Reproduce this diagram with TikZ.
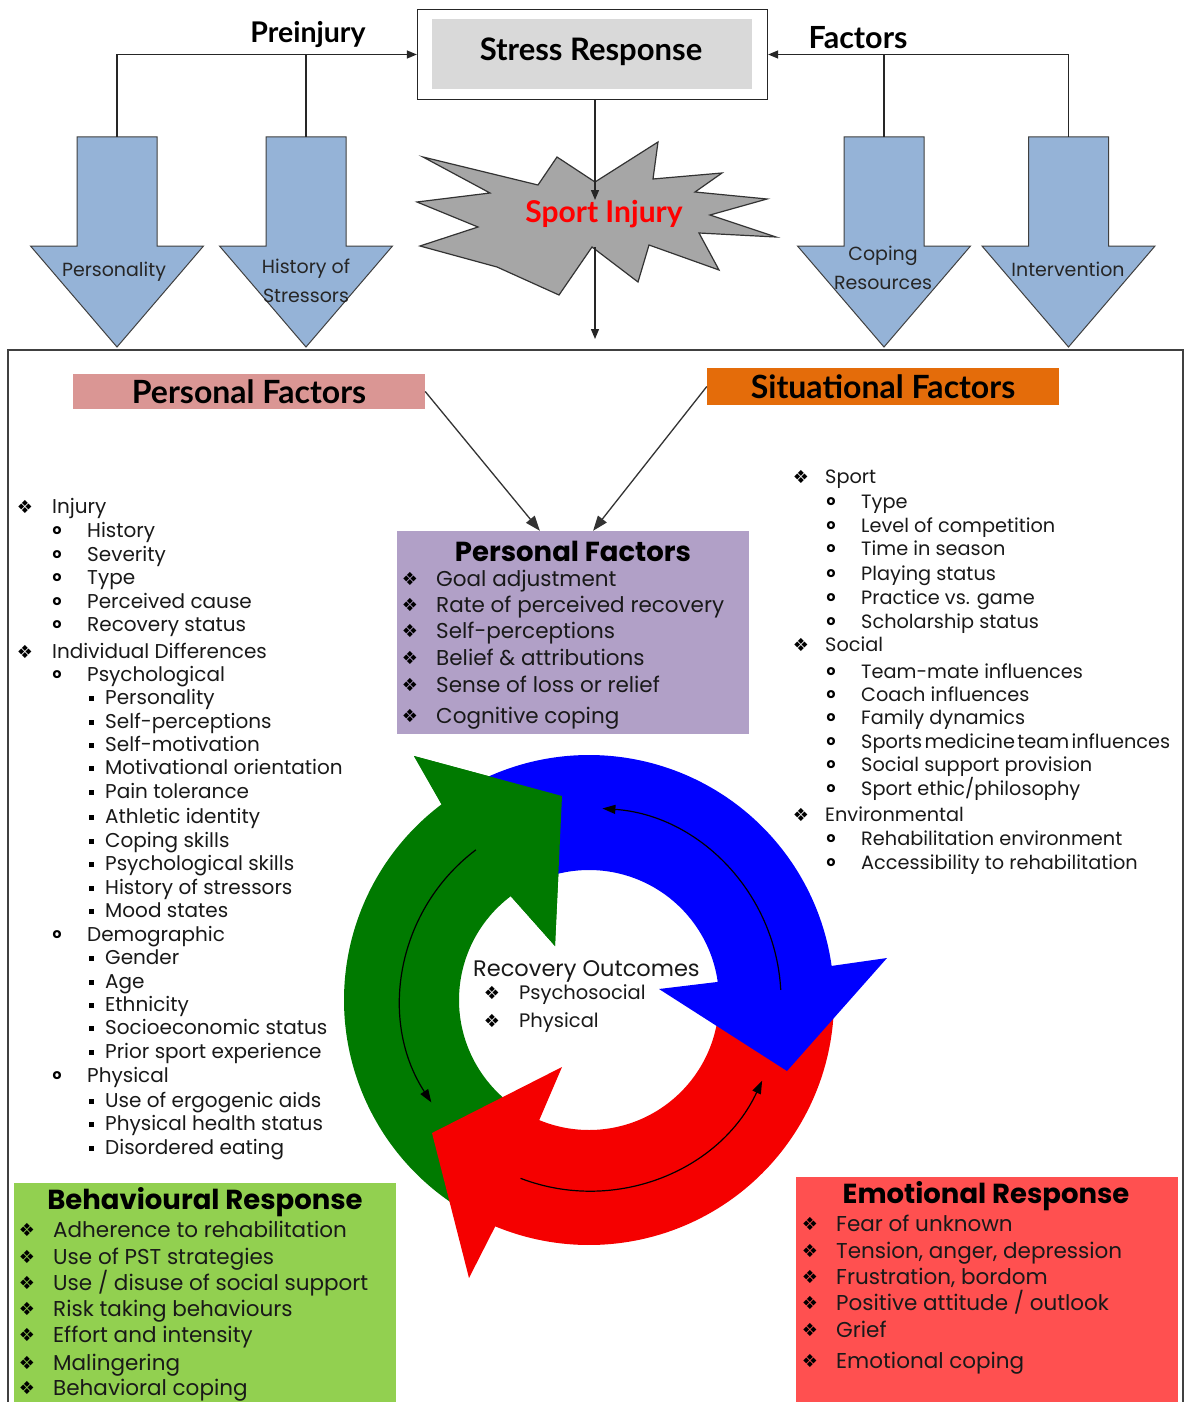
\documentclass[tikz,border=0pt]{standalone}
\usepackage{fontspec}
\setmainfont{Poppins}
\newfontfamily\headfont{Lato}
\newfontfamily\symfont{DejaVu Sans}
\usetikzlibrary{arrows.meta,calc}
\definecolor{barrowc}{HTML}{95B3D7}
\definecolor{srgrey}{HTML}{D9D9D9}
\definecolor{burstc}{HTML}{A6A6A6}
\definecolor{pinkf}{HTML}{DA9694}
\definecolor{orangef}{HTML}{E46C0A}
\definecolor{purplef}{HTML}{B1A0C7}
\definecolor{greenf}{HTML}{92D050}
\definecolor{redf}{HTML}{FF5050}
\definecolor{cgreen}{HTML}{007A00}
\definecolor{cblue}{HTML}{0000FF}
\definecolor{cred}{HTML}{F50000}
\definecolor{injred}{HTML}{FF0000}
\begin{document}
\begin{tikzpicture}[x=1pt,y=-1pt,
  txt/.style={anchor=base west,inner sep=0pt,font=\fontsize{#1}{#1}\selectfont,text=black!90,yshift={-0.34*#1*1pt}},
  txt/.default=20,
  dia/.style={inner sep=0pt,font=\symfont\fontsize{18}{18}\selectfont},
  obul/.style={inner sep=0pt,font=\bfseries\fontsize{14}{14}\selectfont},
  sqb/.style={fill=black,minimum size=5pt,inner sep=0pt},
  boxtitle/.style={inner sep=0pt,font=\bfseries\fontsize{27.5}{27.5}\selectfont},
  toph/.style={inner sep=0pt,font=\headfont\bfseries\fontsize{#1}{#1}\selectfont},
  toph/.default=30,
  lbl/.style={inner sep=0pt,align=center,font=\fontsize{19}{29}\selectfont,text=black!85},
  barrow/.style={fill=barrowc,draw=black!75,line width=1pt},
  conn/.style={draw=black!85,line width=1.3pt,-{Triangle[length=10pt,width=8pt]}},
  plainconn/.style={draw=black!85,line width=1.3pt},
  bigconn/.style={draw=black!80,line width=1.3pt,-{Triangle[length=15pt,width=11pt]}},
  thinarc/.style={draw=black,line width=1.2pt,-{Triangle[length=13pt,width=9pt]}}]
\useasboundingbox (0,0) rectangle (1184,1402);
\fill[white] (0,0) rectangle (1184,1402);

% ---------- top part ----------
\node[draw=black!85,line width=1.3pt,minimum width=350pt,minimum height=90pt,inner sep=0pt] (srbox) at (592.5,54.5) {};
\node[fill=srgrey,minimum width=320pt,minimum height=70pt,inner sep=0pt] (srfill) at (591.5,54.3) {};
\node[toph=31] (sr) at (591,52) {Stress Response};

\foreach \cx [count=\i] in {117,306,884,1068.5} {
  \filldraw[barrow] (\cx-40,137) -- (\cx+40,137) -- (\cx+40,246) -- (\cx+86.5,246) -- (\cx,347) -- (\cx-86.5,246) -- (\cx-40,246) -- cycle;
  \coordinate (pa\i) at (\cx,137);
}
\node[lbl] (lpers) at (114,272) {Personality};
\node[lbl] (lhist) at (306,281) {History of\\Stressors};
\node[lbl] (lcop) at (883,267.5) {Coping\\Resources};
\node[lbl] (lint) at (1068,269) {Intervention};

\node[toph=28.5] (prei) at (308,35) {Preinjury};
\node[toph=30.5] (fact) at (858,38) {Factors};
\draw[conn] (pa1) |- (srbox.west);
\draw[plainconn] (pa2) -- (pa2 |- srbox.west);
\draw[conn] (pa4) |- (srbox.east);
\draw[plainconn] (pa3) -- (pa3 |- srbox.east);

% starburst
\filldraw[fill=burstc,draw=black!80,line width=1.2pt] (423,157) -- (538,185) -- (557,157) -- (595,182) -- (658,142) -- (653,179) -- (722,173) -- (695,192) -- (767,199) -- (710,215) -- (776,237) -- (699,233) -- (719,270) -- (649,245) -- (638,282) -- (592,247) -- (559,295) -- (497,267) -- (420,246) -- (478,227) -- (417,202) -- (490,193) -- cycle;
\node[toph=30,text=injred] (si) at (604,214) {Sport Injury};
\coordinate (bt) at (595,200);
\coordinate (bb) at (595,247);
\coordinate (ft) at (595,339);
\draw[conn] (srbox.south -| bt) -- (bt);
\draw[conn] (bb) -- (ft);

% frame
\draw[line width=1.3pt,draw=black!75] (8,1410) -- (8,350) -- (1183,350) -- (1183,1410);

% ---------- factor boxes ----------
\node[fill=pinkf,minimum width=352pt,minimum height=35pt,inner sep=0pt,toph=32] (pk) at (249,391.5) {Personal Factors};
\node[fill=orangef,minimum width=352pt,minimum height=37pt,inner sep=0pt,toph=32] (orf) at (883,386.5) {Situational Factors};

\node[fill=purplef,minimum width=352pt,minimum height=203pt,inner sep=0pt] (pf) at (573,632.5) {};
\node[boxtitle] (pft) at (573,551) {Personal Factors};
\foreach \yy/\itm [count=\i] in {579/Goal adjustment,605/Rate of perceived recovery,631/Self-perceptions,658/Belief \& attributions,685/Sense of loss or relief,716/Cognitive coping} {
  \node[dia] (pb\i) at (410,\yy) {❖};
  \node[txt=21.5] (pt\i) at (436,\yy) {\itm};
}
\draw[bigconn] (pk.east) -- ($(pf.north west)!0.406!(pf.north east)$);
\draw[bigconn] (orf.west) -- ($(pf.north west)!0.557!(pf.north east)$);

% ---------- left list ----------
\foreach \lv/\yy/\itm [count=\i] in {
1/507/Injury,
2/531/History,
2/555/Severity,
2/578/Type,
2/602/Perceived cause,
2/625/Recovery status,
1/652/Individual Differences,
2/675/Psychological,
3/698/Personality,
3/722/Self-perceptions,
3/745/Self-motivation,
3/768/Motivational orientation,
3/792/Pain tolerance,
3/817/Athletic identity,
3/841/Coping skills,
3/864/Psychological skills,
3/888/History of stressors,
3/911/Mood states,
2/935/Demographic,
3/958/Gender,
3/982/Age,
3/1005/Ethnicity,
3/1028/Socioeconomic status,
3/1052/Prior sport experience,
2/1076/Physical,
3/1101/Use of ergogenic aids,
3/1124/Physical health status,
3/1148/Disordered eating} {
  \ifcase\lv\or
    \node[dia] (lb\i) at (25,\yy) {❖}; \node[txt] (lt\i) at (52,\yy) {\itm};
  \or
    \node[obul] (lb\i) at (57,\yy) {o}; \node[txt] (lt\i) at (87,\yy) {\itm};
  \or
    \node[sqb] (lb\i) at (91,\yy) {}; \node[txt] (lt\i) at (105,\yy) {\itm};
  \fi
}

% ---------- right list ----------
\foreach \lv/\yy/\itm [count=\i] in {
1/477/Sport,
2/502/Type,
2/526/Level of competition,
2/549/Time in season,
2/574/Playing status,
2/598/Practice vs. game,
2/622/Scholarship status,
1/645/Social,
2/672/Team-mate influences,
2/695/Coach influences,
2/718/Family dynamics,
2/742/{\spaceskip=.12em\relax Sports medicine team influences},
2/765/Social support provision,
2/789/{Sport ethic/philosophy},
1/815/Environmental,
2/839/Rehabilitation environment,
2/863/Accessibility to rehabilitation} {
  \ifcase\lv\or
    \node[dia] (rb\i) at (801,\yy) {❖}; \node[txt=19.3] (rt\i) at (825,\yy) {\itm};
  \or
    \node[obul] (rb\i) at (831,\yy) {o}; \node[txt=19.3] (rt\i) at (861,\yy) {\itm};
  \fi
}

% ---------- cycle ----------
\coordinate (C) at (589,1000);
\fill[cgreen] ($(C)+(120:245)$) arc[start angle=120,end angle=233,radius=245] -- (414,756) -- (562,796) -- (555,946) -- ($(C)+(233:130)$) arc[start angle=233,end angle=120,radius=130] -- cycle;
\fill[cred] ($(C)+(0:245)$) arc[start angle=0,end angle=112.5,radius=245] -- (469,1278) -- (432,1133) -- (562,1067) -- ($(C)+(112.5:130)$) arc[start angle=112.5,end angle=0,radius=130] -- cycle;
\fill[cblue] ($(C)+(240:245)$) arc[start angle=240,end angle=352,radius=245] -- (887,958) -- (787,1071) -- (659,989) -- ($(C)+(352:130)$) arc[start angle=352,end angle=240,radius=130] -- cycle;
\fill[cgreen] ($(C)+(233:245)$) -- (414,756) -- (562,796) -- (555,946) -- ($(C)+(233:130)$) -- cycle;

\draw[thinarc] ($(C)+(357:192)$) arc[start angle=357,end angle=274,radius=192];
\draw[thinarc] ($(C)+(233:188)$) arc[start angle=233,end angle=147,radius=188];
\draw[thinarc] ($(C)+(111:191)$) arc[start angle=111,end angle=25,radius=191];

\node[txt=22.5] (ro) at (473,969) {Recovery Outcomes};
\node[dia] (rob1) at (492,993) {❖};
\node[txt=19.5] (rot1) at (519,993) {Psychosocial};
\node[dia] (rob2) at (492,1021) {❖};
\node[txt=19.5] (rot2) at (519,1021) {Physical};

% ---------- response boxes ----------
\node[fill=greenf,minimum width=382pt,minimum height=227pt,inner sep=0pt] (bh) at (205,1296.5) {};
\node[boxtitle] (bht) at (205,1202) {Behavioural Response};
\foreach \yy/\itm [count=\i] in {1230/Adherence to rehabilitation,1257/Use of PST strategies,1283/{Use / disuse of social support},1309/Risk taking behaviours,1335/Effort and intensity,1363/Malingering,1388/Behavioral coping} {
  \node[dia] (bb\i) at (27,\yy) {❖};
  \node[txt=21.5] (bt\i) at (53,\yy) {\itm};
}

\node[fill=redf,minimum width=382pt,minimum height=233pt,inner sep=0pt] (em) at (987,1293.5) {};
\node[boxtitle] (emt) at (986,1196) {Emotional Response};
\foreach \yy/\itm [count=\i] in {1224/Fear of unknown,1251/{Tension, anger, depression},1277/{Frustration, bordom},1303/{Positive attitude / outlook},1330/Grief,1361/Emotional coping} {
  \node[dia] (eb\i) at (810,\yy) {❖};
  \node[txt=21.5] (et\i) at (836,\yy) {\itm};
}
\end{tikzpicture}
\end{document}
